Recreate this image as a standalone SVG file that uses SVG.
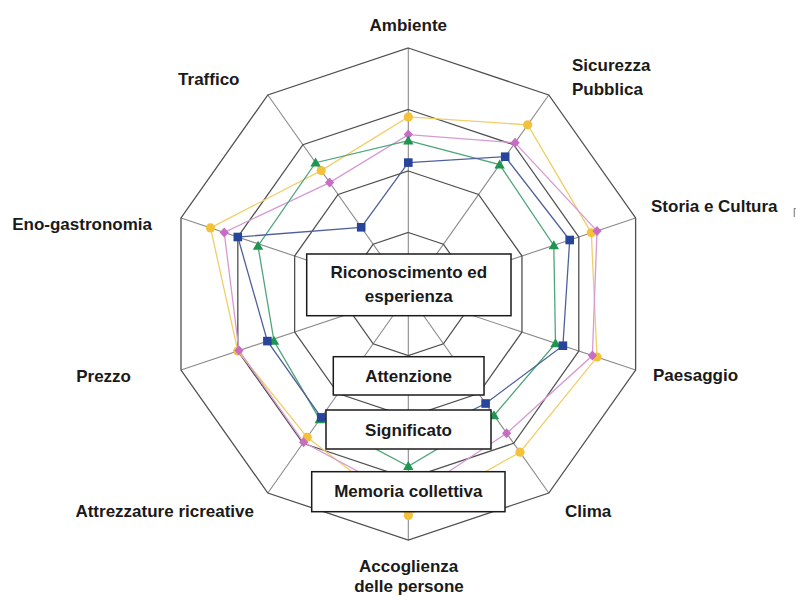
<svg xmlns="http://www.w3.org/2000/svg" xmlns:xlink="http://www.w3.org/1999/xlink" width="796" height="596" viewBox="0 0 796 596">
  <style>
    .ring { fill: none; stroke: #505050; stroke-width: 1.3; stroke-linejoin: miter; }
    .spoke { stroke: #8a8a8a; stroke-width: 1.1; }
    .axis { font-family: "Liberation Sans", Arial, sans-serif; font-weight: bold; font-size: 17px; fill: #1a1a1a; }
    .box rect { fill: #ffffff; stroke: #1a1a1a; stroke-width: 1.5; }
    .box text { font-family: "Liberation Sans", Arial, sans-serif; font-weight: bold; font-size: 17px; fill: #1a1a1a; text-anchor: middle; }
    .s-yellow { fill: none; stroke: #f0cf6a; stroke-width: 1.3; }
    .s-pink { fill: none; stroke: #d79ad3; stroke-width: 1.3; }
    .s-green { fill: none; stroke: #4fa57a; stroke-width: 1.3; }
    .s-blue { fill: none; stroke: #50619a; stroke-width: 1.3; }
  </style>
  <defs>
    <circle id="m-circle" r="4.6" fill="#f3c23a"/>
    <path id="m-diamond" d="M0 -5 L4.6 0 L0 5 L-4.6 0 Z" fill="#c96cc6"/>
    <path id="m-triangle" d="M0 -5.2 L5.2 3.8 L-5.2 3.8 Z" fill="#1e9550"/>
    <rect id="m-square" x="-4.3" y="-4.3" width="8.6" height="8.6" fill="#27459a"/>
  </defs>

  <rect width="796" height="596" fill="#ffffff"/>

  <!-- radar grid: four concentric decagons and ten spokes -->
  <g id="grid">
    <g id="spokes" class="spoke">
      <line x1="408.3" y1="294" x2="408.3" y2="48"/>
      <line x1="408.3" y1="294" x2="548.78" y2="95"/>
      <line x1="408.3" y1="294" x2="635.61" y2="217.99"/>
      <line x1="408.3" y1="294" x2="635.61" y2="370.01"/>
      <line x1="408.3" y1="294" x2="548.78" y2="493"/>
      <line x1="408.3" y1="294" x2="408.3" y2="540"/>
      <line x1="408.3" y1="294" x2="267.82" y2="493"/>
      <line x1="408.3" y1="294" x2="181" y2="370.01"/>
      <line x1="408.3" y1="294" x2="181" y2="217.99"/>
      <line x1="408.3" y1="294" x2="267.82" y2="95"/>
    </g>
    <polygon class="ring" points="408.3,48 548.78,95 635.61,217.99 635.61,370.01 548.78,493 408.3,540 267.82,493 181,370.01 181,217.99 267.82,95"/>
    <polygon class="ring" points="408.3,109.5 513.66,144.75 578.78,236.99 578.78,351.01 513.66,443.25 408.3,478.5 302.94,443.25 237.82,351.01 237.82,236.99 302.94,144.75"/>
    <polygon class="ring" points="408.3,171 478.54,194.5 521.96,256 521.96,332 478.54,393.5 408.3,417 338.06,393.5 294.65,332 294.65,256 338.06,194.5"/>
    <polygon class="ring" points="408.3,232.5 443.42,244.25 465.13,275 465.13,313 443.42,343.75 408.3,355.5 373.18,343.75 351.47,313 351.47,275 373.18,244.25"/>
  </g>

  <!-- data series -->
  <g id="series">
    <g id="series-yellow">
      <polygon class="s-yellow" points="408.3,116.9 527.7,124.8 591.3,232.8 597,357.1 520,452.2 408.3,515.4 307.2,437.3 237.8,351 210.5,227.9 321.2,170.6"/>
      <use xlink:href="#m-circle" x="408.3" y="116.9"/>
      <use xlink:href="#m-circle" x="527.7" y="124.8"/>
      <use xlink:href="#m-circle" x="591.3" y="232.8"/>
      <use xlink:href="#m-circle" x="597" y="357.1"/>
      <use xlink:href="#m-circle" x="520" y="452.2"/>
      <use xlink:href="#m-circle" x="408.3" y="515.4"/>
      <use xlink:href="#m-circle" x="307.2" y="437.3"/>
      <use xlink:href="#m-circle" x="237.8" y="351"/>
      <use xlink:href="#m-circle" x="210.5" y="227.9"/>
      <use xlink:href="#m-circle" x="321.2" y="170.6"/>
    </g>
    <g id="series-pink">
      <polygon class="s-pink" points="408.3,134.6 515.1,142.8 597,230.9 592.4,355.6 506.6,433.3 408.3,498.2 303.6,442.3 239,350.6 224.2,232.4 329.6,182.6"/>
      <use xlink:href="#m-diamond" x="408.3" y="134.6"/>
      <use xlink:href="#m-diamond" x="515.1" y="142.8"/>
      <use xlink:href="#m-diamond" x="597" y="230.9"/>
      <use xlink:href="#m-diamond" x="592.4" y="355.6"/>
      <use xlink:href="#m-diamond" x="506.6" y="433.3"/>
      <use xlink:href="#m-diamond" x="408.3" y="498.2"/>
      <use xlink:href="#m-diamond" x="303.6" y="442.3"/>
      <use xlink:href="#m-diamond" x="239" y="350.6"/>
      <use xlink:href="#m-diamond" x="224.2" y="232.4"/>
      <use xlink:href="#m-diamond" x="329.6" y="182.6"/>
    </g>
    <g id="series-green">
      <polygon class="s-green" points="408.3,140.7 499.6,164.6 553.8,245.4 555.5,343.4 494,415.4 408.3,466.2 319.8,419.4 274,341 258,246 315.6,162.7"/>
      <use xlink:href="#m-triangle" x="408.3" y="140.7"/>
      <use xlink:href="#m-triangle" x="499.6" y="164.6"/>
      <use xlink:href="#m-triangle" x="553.8" y="245.4"/>
      <use xlink:href="#m-triangle" x="555.5" y="343.4"/>
      <use xlink:href="#m-triangle" x="494" y="415.4"/>
      <use xlink:href="#m-triangle" x="408.3" y="466.2"/>
      <use xlink:href="#m-triangle" x="319.8" y="419.4"/>
      <use xlink:href="#m-triangle" x="274" y="341"/>
      <use xlink:href="#m-triangle" x="258" y="246"/>
      <use xlink:href="#m-triangle" x="315.6" y="162.7"/>
    </g>
    <g id="series-blue">
      <polygon class="s-blue" points="408.3,162.6 505.2,156.7 569.7,240 562.9,345.7 485.6,403.5 408.3,441.6 321.2,417.4 267.4,341.1 237.8,237 361.2,227.3"/>
      <use xlink:href="#m-square" x="408.3" y="162.6"/>
      <use xlink:href="#m-square" x="505.2" y="156.7"/>
      <use xlink:href="#m-square" x="569.7" y="240"/>
      <use xlink:href="#m-square" x="562.9" y="345.7"/>
      <use xlink:href="#m-square" x="485.6" y="403.5"/>
      <use xlink:href="#m-square" x="408.3" y="441.6"/>
      <use xlink:href="#m-square" x="321.2" y="417.4"/>
      <use xlink:href="#m-square" x="267.4" y="341.1"/>
      <use xlink:href="#m-square" x="237.8" y="237"/>
      <use xlink:href="#m-square" x="361.2" y="227.3"/>
    </g>
  </g>

  <!-- level boxes -->
  <g id="box-riconoscimento" class="box">
    <rect x="306.7" y="254" width="204.3" height="61.7"/>
    <text x="408.8" y="278">Riconoscimento ed</text>
    <text x="408.8" y="302">esperienza</text>
  </g>
  <g id="box-attenzione" class="box">
    <rect x="333.3" y="356.7" width="150.7" height="38.3"/>
    <text x="408.6" y="382">Attenzione</text>
  </g>
  <g id="box-significato" class="box">
    <rect x="326" y="410" width="165" height="39"/>
    <text x="408.5" y="436">Significato</text>
  </g>
  <g id="box-memoria" class="box">
    <rect x="311.7" y="471.7" width="193.3" height="40"/>
    <text x="408.3" y="497">Memoria collettiva</text>
  </g>

  <!-- axis labels -->
  <g id="label-ambiente"><text class="axis" x="408.3" y="31" text-anchor="middle">Ambiente</text></g>
  <g id="label-sicurezza">
    <text class="axis" x="572" y="71">Sicurezza</text>
    <text class="axis" x="572" y="95">Pubblica</text>
  </g>
  <g id="label-storia"><text class="axis" x="651" y="212">Storia e Cultura</text></g>
  <g id="label-paesaggio"><text class="axis" x="653" y="381">Paesaggio</text></g>
  <g id="label-clima"><text class="axis" x="565" y="517">Clima</text></g>
  <g id="label-accoglienza">
    <text class="axis" x="408.7" y="572" text-anchor="middle">Accoglienza</text>
    <text class="axis" x="409" y="592" text-anchor="middle">delle persone</text>
  </g>
  <g id="label-attrezzature"><text class="axis" x="254" y="517" text-anchor="end">Attrezzature ricreative</text></g>
  <g id="label-prezzo"><text class="axis" x="131" y="382" text-anchor="end">Prezzo</text></g>
  <g id="label-eno"><text class="axis" x="152" y="230" text-anchor="end">Eno-gastronomia</text></g>
  <g id="label-traffico"><text class="axis" x="239.5" y="85" text-anchor="end">Traffico</text></g>

  <!-- small cut-off mark at the right edge -->
  <path d="M796 208.5 H794.3 V217" fill="none" stroke="#8a8a8a" stroke-width="1.2"/>
</svg>
